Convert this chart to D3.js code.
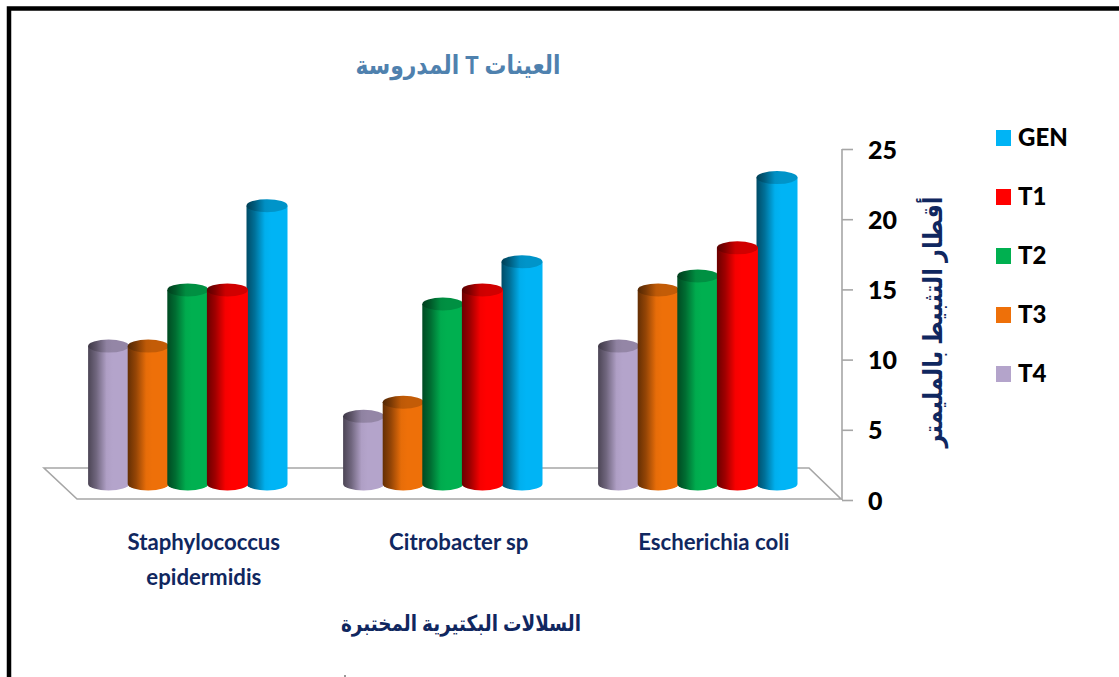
<!DOCTYPE html>
<html><head><meta charset="utf-8">
<script src="https://cdnjs.cloudflare.com/ajax/libs/d3/7.8.5/d3.min.js"></script>
<style>html,body{margin:0;padding:0;background:#fff;overflow:hidden}svg{display:block}</style>
</head><body><svg id="c" width="1119" height="677"></svg>
<script>
const categories = ["Staphylococcus epidermidis", "Citrobacter sp", "Escherichia coli"];
const drawSeries = ["T4", "T3", "T2", "T1", "GEN"];
const legendSeries = ["GEN", "T1", "T2", "T3", "T4"];
const valuesT4 = [10, 5, 10];
const valuesT3 = [10, 6, 14];
const valuesT2 = [14, 13, 15];
const valuesT1 = [14, 14, 17];
const valuesGEN = [20, 16, 22];
const yTicks = [0, 5, 10, 15, 20, 25];
const titleText = "العينات T المدروسة";
const xTitleText = "السلالات البكتيرية المختبرة";
const yTitleText = "أقطار التثبيط بالمليمتر";

const colors = {GEN:"#00B4F5", T1:"#FF0000", T2:"#00B050", T3:"#EE7009", T4:"#B4A4CB"};
const seriesValues = {T4:valuesT4, T3:valuesT3, T2:valuesT2, T1:valuesT1, GEN:valuesGEN};
const svg = d3.select("#c");
const latin = "Lato, Carlito, 'Open Sans', sans-serif";
const arabic = "'Liberation Sans','DejaVu Sans',sans-serif";
const navy = "#10275F";

// frame
svg.append("path").attr("d","M9 677V8.5H1119").attr("fill","none").attr("stroke","#000").attr("stroke-width",4.5);

const y = d3.scaleLinear().domain([0,25]).range([500,149]);
const topOffset = 13.5, baseOffset = 16;   // bars stand on the middle of the floor
const x0 = d3.scaleBand().domain(categories).range([60.3,825.3]);
const x1 = d3.scaleBand().domain(drawSeries).range([0,198]);
const barW = 41, rx = barW/2, ry = 6.5;

// floor
const fx = d3.scaleLinear().domain([0,1]).range([77,841]);
svg.append("path")
  .attr("d",`M${fx(0)} 499L44 468H${fx(1)-32}L${fx(1)} 499Z`)
  .attr("fill","#fff").attr("stroke","#A6A6A6").attr("stroke-width",1.6);

// gradients
const defs = svg.append("defs");
function grad(id,c,k){
  const g = defs.append("linearGradient").attr("id",id);
  const base = d3.color(c);
  [[0,0.42],[0.2,0.62],[0.45,0.97],[0.6,1],[1,1]].forEach(([o,f])=>{
    const col = d3.rgb(base.r*f*k,base.g*f*k,base.b*f*k);
    g.append("stop").attr("offset",o).attr("stop-color",col);
  });
}
drawSeries.forEach(s=>{grad("b"+s,colors[s],1);grad("t"+s,colors[s],0.82);});

// bars (rear-most first)
const order = ["GEN","T4","T3","T2","T1"];
order.forEach(s=>{
  const g = svg.append("g").attr("class","series-"+s);
  categories.forEach((c,i)=>{
    const v = seriesValues[s][i];
    const cx = x0(c) + (x0.bandwidth()-198)/2 + x1(s) + x1.bandwidth()/2;
    const top = y(v) - topOffset, base = y(0) - baseOffset;
    g.append("path")
      .attr("d",`M${cx-rx} ${top}V${base}A${rx} ${ry} 0 0 0 ${cx+rx} ${base}V${top}Z`)
      .attr("fill",`url(#b${s})`);
    g.append("ellipse").attr("cx",cx).attr("cy",top).attr("rx",rx).attr("ry",ry)
      .attr("fill",`url(#t${s})`);
  });
});

// value axis
const axis = svg.append("g").attr("transform","translate(842,0)")
  .call(d3.axisRight(y).tickValues(yTicks).tickSize(11).tickPadding(15));
axis.select(".domain").attr("stroke","#A6A6A6").attr("stroke-width",1.6).attr("d","M0 149V500");
axis.selectAll("line").attr("stroke","#A6A6A6").attr("stroke-width",1.6);
axis.selectAll("text").attr("font-family",latin).attr("font-weight",900)
  .attr("font-size",25).attr("fill","#000").attr("dy","0.36em");

// category labels
categories.forEach((c,i)=>{
  const cx = x0(c)+x0.bandwidth()/2+16;
  const t = svg.append("text").attr("text-anchor","middle").attr("font-family",latin)
    .attr("font-weight",700).attr("font-size",22.2).attr("fill",navy);
  const words = i===0 ? c.split(" ") : [c];
  words.forEach((w,j)=>t.append("tspan").attr("x",cx).attr("y",550+j*35).text(w));
});

// titles
function arabicTitle(text,tf,size,len,fill){
  svg.append("text").attr("transform",tf).attr("text-anchor","middle").attr("direction","rtl")
    .attr("font-family",arabic).attr("font-weight",700).attr("font-size",size).attr("fill",fill)
    .attr("textLength",len).attr("lengthAdjust","spacingAndGlyphs").text(text);
}
arabicTitle(titleText,"translate(458,74)",26,205,"#4F81AE");
arabicTitle(xTitleText,"translate(461,631)",22,240,navy);
arabicTitle(yTitleText,"translate(942,322) rotate(-90)",26,251,navy);

// legend
const ly = d3.scalePoint().domain(legendSeries).range([138,374]);
legendSeries.forEach(s=>{
  svg.append("rect").attr("x",996).attr("y",ly(s)-8).attr("width",15).attr("height",16).attr("fill",colors[s]);
  svg.append("text").attr("x",1018).attr("y",ly(s)+8).attr("font-family",latin).attr("font-weight",900)
    .attr("font-size",24).attr("fill","#000").text(s);
});
svg.append("path").attr("d","M345 675V677").attr("stroke","#333").attr("stroke-width",1);
</script></body></html>
